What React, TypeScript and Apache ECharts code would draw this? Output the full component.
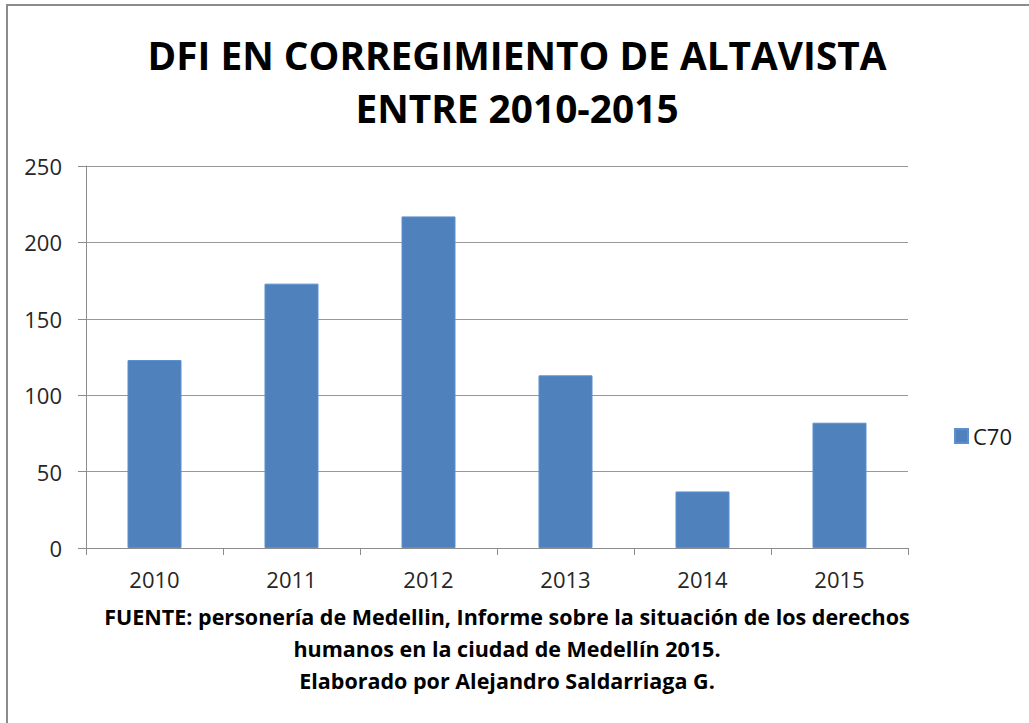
import React, { useEffect, useRef } from "react";
import * as echarts from "echarts";

const categories = ["2010", "2011", "2012", "2013", "2014", "2015"];
const seriesName = "C70";
const values = [123, 173, 217, 113, 37, 82];
const yTicks = { min: 0, max: 250, interval: 50 };
const titleLines = ["DFI EN CORREGIMIENTO DE ALTAVISTA", "ENTRE 2010-2015"];
const footerLines = [
  "FUENTE: personería de Medellin, Informe sobre la situación de los derechos",
  "humanos en la ciudad de Medellín 2015.",
  "Elaborado por Alejandro Saldarriaga G.",
];

const FONT = "'Open Sans', Lato, sans-serif";

export default function App() {
  const ref = useRef<HTMLDivElement>(null);
  useEffect(() => {
    if (!ref.current) return;
    const chart = echarts.init(ref.current, undefined, { renderer: "svg" });
    const graphics: any[] = [
      { type: "line", shape: { x1: 7, y1: 5, x2: 7, y2: 723 }, style: { stroke: "#8c8c8c", lineWidth: 2 } },
      { type: "line", shape: { x1: 6, y1: 5, x2: 1029, y2: 5 }, style: { stroke: "#8c8c8c", lineWidth: 2 } },
    ];
    const titleY = [55, 108];
    titleLines.forEach((t, i) => {
      graphics.push({
        type: "text",
        x: 517,
        y: titleY[i],
        style: {
          text: t,
          fontFamily: FONT,
          fontWeight: "bold",
          fontSize: 38.8,
          fill: "#000",
          textAlign: "center",
          textVerticalAlign: "middle",
        },
      });
    });
    footerLines.forEach((t, i) => {
      graphics.push({
        type: "text",
        x: 507,
        y: 616 + i * 32,
        style: {
          text: t,
          fontFamily: FONT,
          fontWeight: "bold",
          fontSize: 21.5,
          fill: "#000",
          textAlign: "center",
          textVerticalAlign: "middle",
        },
      });
    });
    chart.setOption({
      animation: false,
      backgroundColor: "#fff",
      grid: { left: 86, right: 121, top: 166, bottom: 175, containLabel: false },
      legend: {
        data: [seriesName],
        left: 949,
        top: 420,
        itemWidth: 13,
        itemHeight: 14,
        itemGap: 6,
        icon: "rect",
        textStyle: { fontFamily: FONT, fontSize: 22, color: "#1a1a1a" },
      },
      xAxis: {
        type: "category",
        data: categories,
        axisLine: { lineStyle: { color: "#8c8c8c", width: 1 } },
        axisTick: { show: true, length: 7, alignWithLabel: false, lineStyle: { color: "#8c8c8c" } },
        axisLabel: { margin: 20, fontFamily: FONT, fontSize: 22, color: "#262626" },
      },
      yAxis: {
        type: "value",
        min: yTicks.min,
        max: yTicks.max,
        interval: yTicks.interval,
        axisLine: { show: true, lineStyle: { color: "#8c8c8c", width: 1 } },
        axisTick: { show: true, length: 8, lineStyle: { color: "#8c8c8c" } },
        splitLine: { show: true, lineStyle: { color: "#999999", width: 1.2 } },
        axisLabel: { margin: 24, fontFamily: FONT, fontSize: 22, color: "#262626" },
      },
      series: [
        {
          name: seriesName,
          type: "bar",
          data: values,
          barWidth: 54,
          itemStyle: { color: "#4f81bd", borderColor: "#5b8fcf", borderWidth: 1 },
        },
      ],
      graphic: graphics,
    });
    return () => chart.dispose();
  }, []);
  return (
    <div
      ref={ref}
      style={{ position: "absolute", left: 0, top: 0, width: 1029, height: 723 }}
    />
  );
}
